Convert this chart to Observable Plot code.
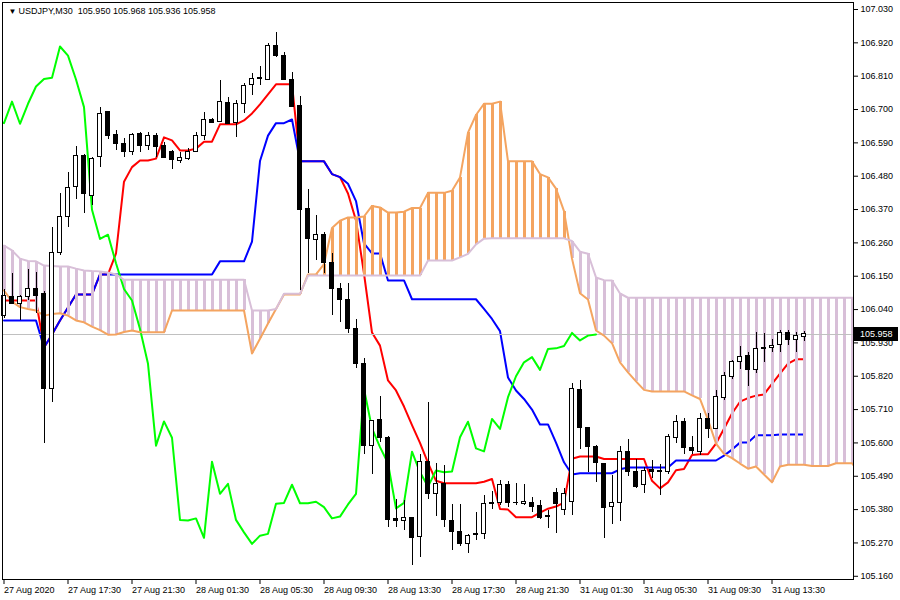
<!DOCTYPE html>
<html><head><meta charset="utf-8">
<script src="https://cdn.jsdelivr.net/npm/d3@7"></script>
<script src="https://cdn.jsdelivr.net/npm/@observablehq/plot@0.6"></script>
<style>html,body{margin:0;padding:0;background:#fff;} #chart svg{display:block}</style>
</head><body><div id="chart"></div>
<script>
const symbol = "USDJPY,M30";

const opens = [
106.020,106.081,106.060,106.083,106.108,106.093,105.779,106.228,106.345,106.443,
106.548,106.416,106.543,106.691,106.617,106.587,106.559,106.620,106.579,106.614,
106.581,106.559,106.529,106.537,106.559,106.614,106.664,106.658,106.722,106.655,
106.719,106.782,106.800,106.799,106.908,106.878,106.799,106.710,106.372,106.270,
106.287,106.192,106.108,106.070,105.976,105.859,105.591,105.674,105.617,105.348,
105.344,105.353,105.291,105.538,105.432,105.465,105.344,105.307,105.267,105.295,
105.300,105.399,105.401,105.462,105.402,105.399,105.402,105.391,105.360,105.435,
105.380,105.404,105.775,105.650,105.588,105.531,105.388,105.401,105.569,105.503,
105.462,105.512,105.504,105.503,105.615,105.670,105.584,105.569,105.679,105.646,
105.749,105.817,105.868,105.886,105.841,105.909,105.914,105.924,105.963,105.938,
105.950];
const highs = [
106.106,106.159,106.086,106.172,106.162,106.099,106.311,106.423,106.493,106.578,
106.552,106.542,106.706,106.694,106.631,106.603,106.620,106.625,106.625,106.620,
106.592,106.565,106.559,106.570,106.625,106.691,106.669,106.796,106.741,106.730,
106.785,106.818,106.842,106.917,106.953,106.889,106.823,106.743,106.435,106.350,
106.294,106.224,106.125,106.125,106.006,105.877,105.674,105.753,105.621,105.412,
105.410,105.354,105.562,105.732,105.531,105.525,105.397,105.397,105.297,105.371,
105.426,105.439,105.476,105.472,105.467,105.462,105.421,105.410,105.377,105.450,
105.448,105.797,105.806,105.651,105.591,105.533,105.492,105.588,105.610,105.544,
105.520,105.542,105.528,105.627,105.690,105.679,105.621,105.696,105.696,105.773,
105.831,105.872,105.918,105.899,105.965,105.960,105.940,105.971,105.971,105.965,
105.968];
const lows = [
106.010,106.058,106.004,106.070,106.027,105.598,105.733,106.218,106.312,106.403,
106.357,106.383,106.510,106.601,106.565,106.543,106.548,106.559,106.565,106.543,
106.538,106.501,106.521,106.532,106.558,106.598,106.653,106.657,106.652,106.609,
106.686,106.746,106.779,106.799,106.871,106.796,106.707,106.103,106.159,106.202,
106.159,106.020,105.998,105.960,105.844,105.562,105.496,105.602,105.320,105.320,
105.311,105.195,105.221,105.412,105.358,105.320,105.245,105.258,105.234,105.278,
105.280,105.379,105.393,105.388,105.393,105.393,105.371,105.349,105.318,105.302,
105.360,105.360,105.577,105.503,105.470,105.285,105.330,105.340,105.489,105.450,
105.432,105.482,105.426,105.495,105.599,105.562,105.562,105.558,105.613,105.644,
105.740,105.808,105.841,105.786,105.828,105.866,105.899,105.899,105.921,105.899,
105.936];
const closes = [
106.086,106.060,106.080,106.108,106.086,105.779,106.228,106.345,106.442,106.548,
106.422,106.537,106.686,106.614,106.587,106.559,106.617,106.579,106.614,106.576,
106.541,106.532,106.541,106.559,106.614,106.664,106.655,106.726,106.653,106.719,
106.776,106.801,106.805,106.908,106.878,106.799,106.708,106.369,106.273,106.287,
106.193,106.108,106.070,105.976,105.861,105.591,105.671,105.617,105.346,105.344,
105.351,105.287,105.538,105.432,105.465,105.346,105.305,105.267,105.294,105.300,
105.399,105.402,105.462,105.401,105.401,105.406,105.388,105.351,105.357,105.397,
105.432,105.778,105.648,105.586,105.533,105.384,105.402,105.571,105.503,105.456,
105.509,105.503,105.506,105.619,105.670,105.582,105.572,105.679,105.646,105.751,
105.820,105.866,105.883,105.841,105.910,105.912,105.920,105.963,105.938,105.954,
105.958];

const tenkan = [
106.070,106.070,106.070,106.070,106.070,105.915,105.958,106.004,106.047,106.090,
106.090,106.090,106.156,106.156,106.225,106.462,106.510,106.532,106.532,106.538,
106.608,106.598,106.565,106.565,106.571,106.594,106.594,106.651,106.651,106.651,
106.664,106.687,106.717,106.750,106.783,106.783,106.783,106.529,106.529,106.529,
106.529,106.487,106.477,106.423,106.334,106.159,105.964,105.921,105.806,105.773,
105.720,105.659,105.600,105.534,105.475,105.467,105.467,105.467,105.467,105.467,
105.472,105.481,105.382,105.380,105.355,105.355,105.355,105.370,105.383,105.390,
105.403,105.548,105.555,105.555,105.555,105.547,105.547,105.547,105.547,105.547,
105.547,105.475,105.450,105.470,105.510,105.514,105.560,105.563,105.563,105.598,
105.647,105.697,105.736,105.748,105.756,105.760,105.795,105.829,105.862,105.876,
105.876];
const kijun = [
106.004,106.004,106.004,106.004,106.004,105.915,105.958,106.004,106.047,106.090,
106.090,106.090,106.156,106.156,106.156,106.156,106.156,106.156,106.156,106.156,
106.156,106.156,106.156,106.156,106.156,106.156,106.156,106.199,106.199,106.199,
106.199,106.264,106.530,106.614,106.655,106.655,106.667,106.529,106.529,106.529,
106.529,106.487,106.477,106.455,106.398,106.258,106.225,106.225,106.136,106.136,
106.136,106.074,106.074,106.074,106.074,106.074,106.074,106.074,106.074,106.074,
106.042,106.009,105.969,105.816,105.773,105.745,105.710,105.661,105.661,105.601,
105.536,105.496,105.500,105.500,105.500,105.500,105.500,105.513,105.519,105.519,
105.519,105.519,105.519,105.519,105.542,105.542,105.542,105.542,105.542,105.542,
105.558,105.578,105.601,105.601,105.625,105.625,105.625,105.628,105.628,105.628,
105.628];
const spanA = [
106.103,106.066,106.048,106.042,106.037,106.020,106.025,106.028,106.020,106.004,
105.998,105.984,105.972,105.957,105.958,105.966,105.971,105.965,105.965,105.965,
105.965,106.037,106.037,106.037,106.037,106.037,106.037,106.037,106.037,106.037,
106.037,105.895,105.944,105.994,106.042,106.090,106.090,106.090,106.156,106.156,
106.190,106.309,106.333,106.344,106.344,106.347,106.382,106.377,106.360,106.360,
106.363,106.375,106.375,106.425,106.425,106.425,106.432,106.476,106.624,106.682,
106.719,106.719,106.726,106.529,106.529,106.529,106.529,106.487,106.476,106.439,
106.365,106.208,106.094,106.073,105.971,105.954,105.929,105.866,105.833,105.803,
105.775,105.770,105.770,105.770,105.770,105.770,105.757,105.745,105.676,105.598,
105.564,105.550,105.532,105.515,105.522,105.496,105.470,105.522,105.528,105.528,
105.528,105.524,105.524,105.524,105.533,105.533,105.533,105.498];
const spanB = [
106.251,106.235,106.208,106.200,106.199,106.185,106.184,106.182,106.182,106.175,
106.169,106.167,106.166,106.162,106.156,106.138,106.138,106.138,106.138,106.138,
106.138,106.138,106.138,106.138,106.138,106.138,106.138,106.138,106.138,106.138,
106.138,106.037,106.037,106.037,106.042,106.092,106.092,106.092,106.152,106.152,
106.152,106.152,106.152,106.152,106.152,106.152,106.152,106.152,106.152,106.152,
106.152,106.152,106.152,106.202,106.202,106.202,106.202,106.212,106.224,106.255,
106.274,106.275,106.275,106.275,106.275,106.275,106.275,106.275,106.275,106.275,
106.275,106.266,106.231,106.224,106.146,106.137,106.136,106.093,106.079,106.079,
106.079,106.079,106.079,106.079,106.079,106.079,106.079,106.079,106.079,106.079,
106.079,106.079,106.079,106.079,106.079,106.079,106.079,106.079,106.079,106.079,
106.079,106.079,106.079,106.079,106.079,106.079,106.079,106.079];

const xTickBars = [0, 8, 16, 24, 32, 40, 48, 56, 64, 72, 80, 88, 96];
const xTickLabels = ["27 Aug 2020","27 Aug 17:30","27 Aug 21:30","28 Aug 01:30","28 Aug 05:30",
  "28 Aug 09:30","28 Aug 13:30","28 Aug 17:30","28 Aug 21:30","31 Aug 01:30",
  "31 Aug 05:30","31 Aug 09:30","31 Aug 13:30"];
const yTicks = [107.030,106.920,106.810,106.700,106.590,106.480,106.370,106.260,106.150,
  106.040,105.930,105.820,105.710,105.600,105.490,105.380,105.270,105.160];

const FONT = "'Liberation Sans', Arial, sans-serif";
const fmt = d3.format(".3f");
const bars = opens.map((o, i) => ({i, open: o, high: highs[i], low: lows[i], close: closes[i]}));
const tenkanData = tenkan.map((v, i) => ({i, v}));
const kijunData = kijun.map((v, i) => ({i, v}));
const cloud = spanA.map((a, i) => ({i, a, b: spanB[i]}));
const chikou = closes.slice(25).map((v, k) => ({i: k - 1, v})); // close shifted back 26 bars
const last = bars[bars.length - 1];
const labelMap = new Map(xTickBars.map((b, k) => [b, xTickLabels[k]]));

const plot = Plot.plot({
  width: 900, height: 600,
  marginLeft: 2, marginRight: 47, marginTop: 2, marginBottom: 21,
  x: {domain: [-0.1875, 106.1875], axis: null},
  y: {domain: [105.1494, 107.0531], axis: null},
  color: {type: "identity"},
  style: {fontFamily: FONT, fontSize: "9px", background: "#fff", color: "#000"},
  marks: [
    Plot.line(tenkanData, {x: "i", y: "v", stroke: "#FF0000", strokeWidth: 2, clip: true}),
    Plot.line(kijunData, {x: "i", y: "v", stroke: "#0000FF", strokeWidth: 2, clip: true}),
    Plot.ruleX(cloud, {x: "i", y1: "a", y2: "b", stroke: d => d.a >= d.b ? "#F4A460" : "#D8BFD8",
      strokeWidth: 3, clip: true, shapeRendering: "crispEdges"}),
    Plot.ruleY([last.close], {stroke: "#C0C0C0", strokeWidth: 1, shapeRendering: "crispEdges"}),
    Plot.line(chikou, {x: "i", y: "v", stroke: "#00FF00", strokeWidth: 2, clip: true}),
    Plot.line(cloud, {x: "i", y: "a", stroke: "#F4A460", strokeWidth: 2, clip: true}),
    Plot.line(cloud, {x: "i", y: "b", stroke: "#D8BFD8", strokeWidth: 2, clip: true}),
    Plot.ruleX(bars, {x: "i", y1: "low", y2: "high", stroke: "#000", strokeWidth: 1, shapeRendering: "crispEdges"}),
    Plot.rect(bars, {x1: d => d.i - 0.25, x2: d => d.i + 0.25, y1: "open", y2: "close",
      fill: d => d.close >= d.open ? "#fff" : "#000", stroke: "#000", strokeWidth: 1, shapeRendering: "crispEdges"}),
    Plot.frame({stroke: "#000", shapeRendering: "crispEdges"}),
    Plot.axisY(yTicks, {anchor: "right", label: null, tickSize: 4, tickPadding: 3, tickFormat: fmt, fill: "#000"}),
    Plot.axisX(xTickBars, {anchor: "bottom", label: null, tickSize: 5, tickPadding: 2, tickFormat: d => labelMap.get(d), textAnchor: "start", fill: "#000"}),
    Plot.text(["▼"], {frameAnchor: "top-left", dx: 6, dy: 8.5, fontSize: 8, lineAnchor: "middle", fill: "#000"}),
    Plot.text([`${symbol}  ${fmt(last.open)} ${fmt(last.high)} ${fmt(last.low)} ${fmt(last.close)}`],
      {frameAnchor: "top-left", dx: 16, dy: 9, textAnchor: "start", lineAnchor: "middle", fill: "#000"})
  ]
});

const svg = d3.select(plot);
const yPos = plot.scale("y").apply(last.close);
svg.append("rect").attr("x", 854).attr("y", Math.round(yPos) - 7).attr("width", 44).attr("height", 14).attr("fill", "#000");
svg.append("text").attr("x", 860).attr("y", yPos).attr("dy", "0.32em").attr("fill", "#fff")
  .attr("text-anchor", "start").attr("font-size", 9).attr("font-family", FONT).text(fmt(last.close));

document.getElementById("chart").appendChild(plot);
</script></body></html>
